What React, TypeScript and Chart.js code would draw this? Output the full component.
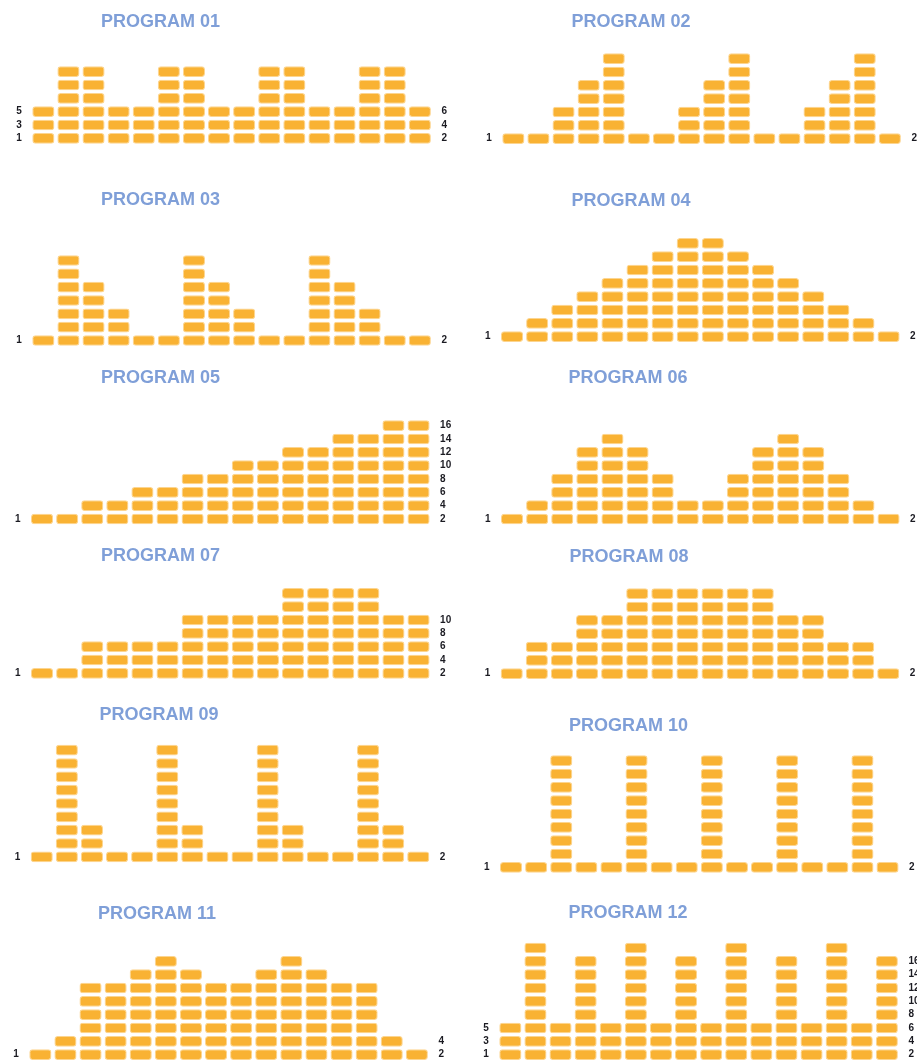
import React, { useEffect, useRef } from 'react';
import { Chart, registerables } from 'chart.js';
Chart.register(...registerables);

// ---------- data ----------
const columns = ['1', '2', '3', '4', '5', '6', '7', '8', '9', '10', '11', '12', '13', '14', '15', '16'];
const titles = ['PROGRAM 01', 'PROGRAM 02', 'PROGRAM 03', 'PROGRAM 04', 'PROGRAM 05', 'PROGRAM 06',
  'PROGRAM 07', 'PROGRAM 08', 'PROGRAM 09', 'PROGRAM 10', 'PROGRAM 11', 'PROGRAM 12'];

const program01 = [3, 6, 6, 3, 3, 6, 6, 3, 3, 6, 6, 3, 3, 6, 6, 3];
const program02 = [1, 1, 3, 5, 7, 1, 1, 3, 5, 7, 1, 1, 3, 5, 7, 1];
const program03 = [1, 7, 5, 3, 1, 1, 7, 5, 3, 1, 1, 7, 5, 3, 1, 1];
const program04 = [1, 2, 3, 4, 5, 6, 7, 8, 8, 7, 6, 5, 4, 3, 2, 1];
const program05 = [1, 1, 2, 2, 3, 3, 4, 4, 5, 5, 6, 6, 7, 7, 8, 8];
const program06 = [1, 2, 4, 6, 7, 6, 4, 2, 2, 4, 6, 7, 6, 4, 2, 1];
const program07 = [1, 1, 3, 3, 3, 3, 5, 5, 5, 5, 7, 7, 7, 7, 5, 5];
const program08 = [1, 3, 3, 5, 5, 7, 7, 7, 7, 7, 7, 5, 5, 3, 3, 1];
const program09 = [1, 9, 3, 1, 1, 9, 3, 1, 1, 9, 3, 1, 1, 9, 3, 1];
const program10 = [1, 1, 9, 1, 1, 9, 1, 1, 9, 1, 1, 9, 1, 1, 9, 1];
const program11 = [1, 2, 6, 6, 7, 8, 7, 6, 6, 7, 8, 7, 6, 6, 2, 1];
const program12 = [3, 9, 3, 8, 3, 9, 3, 8, 3, 9, 3, 8, 3, 9, 3, 8];

const leftLabels01 = [1, 3, 5];
const rightLabels01 = [2, 4, 6];
const leftLabelsOne = [1];
const rightLabelsTwo = [2];
const rightLabels05 = [2, 4, 6, 8, 10, 12, 14, 16];
const rightLabels07 = [2, 4, 6, 8, 10];
const rightLabels11 = [2, 4];
const leftLabels12 = [1, 3, 5];
const rightLabels12 = [2, 4, 6, 8, 10, 12, 14, 16];

const programs = [program01, program02, program03, program04, program05, program06,
  program07, program08, program09, program10, program11, program12];
const leftLabelSets = [leftLabels01, leftLabelsOne, leftLabelsOne, leftLabelsOne, leftLabelsOne, leftLabelsOne,
  leftLabelsOne, leftLabelsOne, leftLabelsOne, leftLabelsOne, leftLabelsOne, leftLabels12];
const rightLabelSets = [rightLabels01, rightLabelsTwo, rightLabelsTwo, rightLabelsTwo, rightLabels05, rightLabelsTwo,
  rightLabels07, rightLabelsTwo, rightLabelsTwo, rightLabelsTwo, rightLabels11, rightLabels12];

// ---------- layout (page pixels) ----------
const UNIT = 13.333;
const MAXY = 10;
const CAT_W = 25.1;
const BLOCK_COLOR = '#F9B233';
const HALO_COLOR = 'rgba(249,178,52,0.55)';
const TITLE_COLOR = '#7F9FD8';
const LABEL_COLOR = '#1b1b22';
const FONT = '"Liberation Sans", Arial, sans-serif';

// first block left edge, y of value 0, title centre
const layout = [
  { blockLeft: 32.3, y0: 145.0, tx: 160.5, ty: 21 },
  { blockLeft: 502.3, y0: 145.3, tx: 631, ty: 21 },
  { blockLeft: 32.3, y0: 347.2, tx: 160.5, ty: 199 },
  { blockLeft: 501.0, y0: 343.3, tx: 631, ty: 200 },
  { blockLeft: 31.0, y0: 525.7, tx: 160.5, ty: 377 },
  { blockLeft: 501.0, y0: 525.7, tx: 628, ty: 377 },
  { blockLeft: 31.0, y0: 680.0, tx: 160.5, ty: 555 },
  { blockLeft: 500.7, y0: 680.3, tx: 629, ty: 556 },
  { blockLeft: 30.7, y0: 863.5, tx: 159, ty: 714 },
  { blockLeft: 500.0, y0: 874.0, tx: 628.5, ty: 725 },
  { blockLeft: 29.3, y0: 1061.3, tx: 157, ty: 913 },
  { blockLeft: 499.3, y0: 1061.3, tx: 628, ty: 912 },
];

const GAP = 0.1;
const BAR_PCT = 0.88;

function Panel({ idx }: { idx: number }) {
  const ref = useRef<HTMLCanvasElement | null>(null);
  const L = layout[idx];
  const isRight = idx % 2 === 1;
  const canvasLeft = isRight ? 458 : 0;
  const canvasW = isRight ? 917 - 458 : 458;
  const canvasTop = Math.round(L.y0 - MAXY * UNIT - 8);
  const canvasH = 160;
  const areaLeft = L.blockLeft - (CAT_W * (1 - BAR_PCT)) / 2;
  const areaRight = areaLeft + CAT_W * 16;
  const leftW = areaLeft - canvasLeft;
  const rightW = canvasLeft + canvasW - areaRight;
  const padTop = L.y0 - MAXY * UNIT - canvasTop;
  const padBottom = canvasTop + canvasH - L.y0;

  useEffect(() => {
    const heights = programs[idx];
    const lefts = leftLabelSets[idx];
    const rights = rightLabelSets[idx];
    const maxH = Math.max(...heights);
    const datasets = [];
    for (let k = 1; k <= maxH; k++) {
      datasets.push({
        data: heights.map((h) => (h >= k ? [k - 1 + GAP, k - GAP] : null)),
        backgroundColor: BLOCK_COLOR,
        borderColor: HALO_COLOR,
        borderWidth: 1,
        borderRadius: 3,
        borderSkipped: false,
        grouped: false,
        barPercentage: BAR_PCT,
        categoryPercentage: 1,
        yAxisID: 'y',
      });
    }
    const tickFont = { family: FONT, size: 10, weight: 'bold' as const };
    const chart = new Chart(ref.current!, {
      type: 'bar',
      data: { labels: columns, datasets: datasets as any },
      options: {
        animation: false,
        responsive: false,
        events: [],
        layout: { padding: { top: padTop, bottom: padBottom, left: 0, right: 0 } },
        plugins: { legend: { display: false }, tooltip: { enabled: false }, title: { display: false } },
        scales: {
          x: { type: 'category', display: false, offset: true },
          y: {
            type: 'linear', position: 'left', min: 0, max: MAXY,
            grid: { display: false, drawTicks: false }, border: { display: false },
            ticks: {
              padding: 9, autoSkip: false, color: LABEL_COLOR, font: tickFont,
              callback: (_v: any, i: number) => String(lefts[i] ?? ''),
            },
            afterBuildTicks: (s: any) => { s.ticks = lefts.map((_, i) => ({ value: i + 0.5 })); },
            afterFit: (s: any) => { s.width = leftW; s.paddingTop = 0; s.paddingBottom = 0; },
          },
          y1: {
            type: 'linear', position: 'right', min: 0, max: MAXY,
            grid: { display: false, drawTicks: false }, border: { display: false },
            ticks: {
              padding: 9, autoSkip: false, color: LABEL_COLOR, font: tickFont,
              callback: (_v: any, i: number) => String(rights[i] ?? ''),
            },
            afterBuildTicks: (s: any) => { s.ticks = rights.map((_, i) => ({ value: i + 0.5 })); },
            afterFit: (s: any) => { s.width = rightW; s.paddingTop = 0; s.paddingBottom = 0; },
          },
        },
      } as any,
    });
    return () => chart.destroy();
  }, []);

  return (
    <>
      <canvas
        ref={ref}
        width={canvasW}
        height={canvasH}
        style={{ position: 'absolute', left: canvasLeft, top: canvasTop, width: canvasW, height: canvasH }}
      />
      <div
        style={{
          position: 'absolute', left: L.tx - 100, top: L.ty - 8.8, width: 200,
          textAlign: 'center', font: `bold 18px ${FONT}`, lineHeight: '18px', color: TITLE_COLOR,
          whiteSpace: 'nowrap', zIndex: 2,
        }}
      >
        {titles[idx]}
      </div>
    </>
  );
}

export default function App() {
  return (
    <div style={{ position: 'absolute', left: 0, top: 0, width: 917, height: 1061, overflow: 'hidden', background: '#fff' }}>
      {titles.map((_, i) => (
        <Panel key={i} idx={i} />
      ))}
    </div>
  );
}
